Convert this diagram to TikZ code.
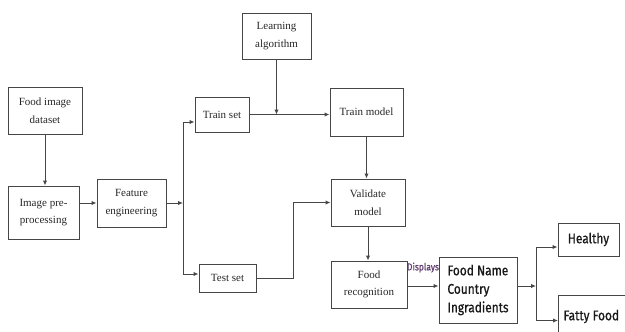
\documentclass[tikz,border=0pt]{standalone}
\usepackage{fontspec}
\setmainfont{Liberation Serif}
\newfontfamily\dinfont[FakeStretch=0.85,FakeBold=0.8]{Fira Sans}
\usetikzlibrary{positioning,calc,arrows.meta}
\definecolor{linegray}{RGB}{70,70,70}
\definecolor{labelpurple}{RGB}{95,60,110}

\begin{document}
\begin{tikzpicture}[x=1pt,y=-1pt,>={Latex[length=5pt,width=4.5pt]},
    stepbox/.style={draw=linegray, line width=1pt, inner sep=0pt, align=center, text=black!85, font=\fontsize{11}{17.5}\selectfont},
    outbox/.style={draw=linegray, line width=1pt, inner sep=0pt, text=black!90, font=\dinfont\fontsize{14}{18.5}\selectfont},
    link/.style={draw=linegray, line width=1pt}]
    \useasboundingbox (0,0) rectangle (625,332);

    % pipeline boxes
    \node[stepbox, minimum width=74, minimum height=47] (data) at (45,110.5) {Food image\\dataset};
    \node[stepbox, minimum width=71, minimum height=53] (prep) at (43.5,212.5) {Image pre-\\processing};
    \node[stepbox, minimum width=69, minimum height=48] (feat) at (131.5,203) {Feature\\engineering};
    \node[stepbox, minimum width=54, minimum height=35] (trainset) at (222,114.5) {Train set};
    \node[stepbox, minimum width=57, minimum height=28] (testset) at (227.5,278) {Test set};
    \node[stepbox, minimum width=69, minimum height=46] (algo) at (276.5,36) {Learning\\algorithm};
    \node[stepbox, minimum width=73, minimum height=48] (trainmodel) at (366.5,112) {Train model};
    \node[stepbox, minimum width=74, minimum height=47] (validate) at (368,202.5) {Validate\\model};
    \node[stepbox, minimum width=76, minimum height=47] (recog) at (369,284.5) {Food\\recognition};

    % output boxes
    \node[outbox, align=left, minimum width=78, minimum height=66] (info) at (478,290) {Food Name\\Country\\Ingradients};
    \node[outbox, minimum width=61, minimum height=33] (healthy) at (588.5,239.5) {Healthy};
    \node[outbox, anchor=north west, minimum width=130pt, minimum height=50pt] (fatty) at (558,295) {}; % runs past the page edge
    \node[outbox, draw=none, anchor=west, inner xsep=5pt] (fattytext) at ([yshift=4pt]fatty.west) {Fatty Food};

    \coordinate (split) at (183,203);
    \coordinate (tup) at (183,122);
    \coordinate (tdown) at (183,274);
    \coordinate (fork) at (536,286);

    \draw[link,->] (data.south) -- (data.south |- prep.north);
    \draw[link,->] (prep.east |- feat.west) -- (feat.west);
    \draw[link,->] (feat.east |- split) -- (split);
    \draw[link] (tup) -- (tdown);
    \draw[link,->] (tup) -- (tup -| trainset.west);
    \draw[link,->] (tdown) -- (tdown -| testset.west);
    \draw[link,->] (trainset.east) -- (trainset.east -| trainmodel.west);
    \draw[link,->] (algo.south) -- (algo.south |- trainset.east);
    \draw[link,->] (testset.east) -- ++(37,0) |- (validate.west);
    \draw[link,->] (trainmodel.south) -- (trainmodel.south |- validate.north);
    \draw[link,->] (validate.south) -- (validate.south |- recog.north);
    \draw[link,->] (recog.east |- fork) -- (fork -| info.west)
        node[midway, above=13pt, inner sep=0pt, text=labelpurple, font=\dinfont\fontsize{10}{12}\selectfont] {Displays};
    \draw[link,->] (info.east |- fork) -- (fork);
    \draw[link,->] (fork) |- ([yshift=-7.5pt]healthy.west);
    \draw[link,->] (fork) |- (fatty.west);
\end{tikzpicture}
\end{document}
